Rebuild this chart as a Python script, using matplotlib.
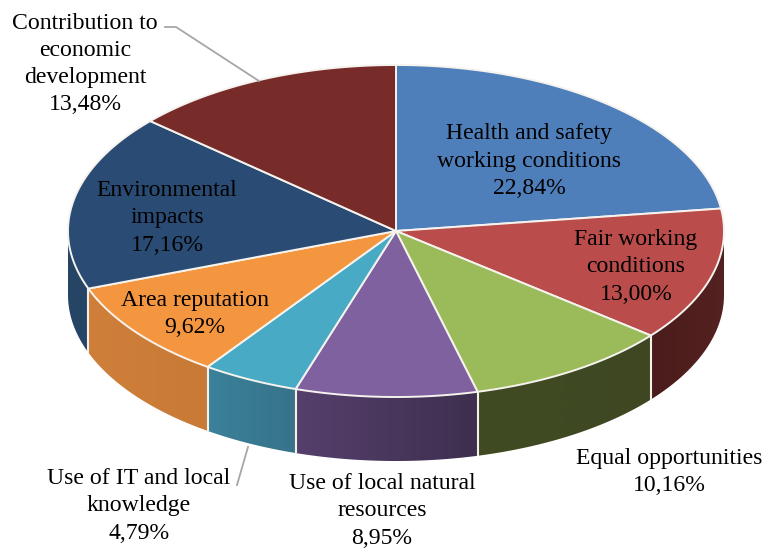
import numpy as np
import matplotlib
matplotlib.use('Agg')
import matplotlib.pyplot as plt
from matplotlib.patches import Polygon
from matplotlib.colors import to_rgb

names = ['Health and safety\nworking conditions', 'Fair working\nconditions', 'Equal opportunities',
         'Use of local natural\nresources', 'Use of IT and local\nknowledge', 'Area reputation',
         'Environmental\nimpacts', 'Contribution to\neconomic\ndevelopment']
values = [22.84, 13.00, 10.16, 8.95, 4.79, 9.62, 17.16, 13.48]
top_colors = ['#4F7FBB', '#BA4D4B', '#9BBA59', '#7F61A0', '#49AAC5', '#F4963F', '#2A4B73', '#772C2A']
wall_left = ['#4F81BD', '#4A1C1B', '#404B22', '#553F6C', '#3A8199', '#CF7F3A', '#264566', '#772C2A']
wall_right = ['#4F81BD', '#542220', '#3E4722', '#3E2F4E', '#37738A', '#C87A36', '#264566', '#772C2A']
label_xy = [(529, 161), (636, 267), (669, 472), (382, 511), (139, 506), (195, 314), (167, 218), (85, 64)]

cx, cy = 396, 231
rx, ry = 328, 166
depth = 64

fig = plt.figure(figsize=(7.66, 5.5), dpi=100)
ax = fig.add_axes([0, 0, 1, 1])
ax.axis('off')


def rim(deg):
    # degrees clockwise from the top of the pie
    a = np.radians(deg)
    return cx + rx * np.sin(a), cy - ry * np.cos(a)


edges = np.concatenate([[0], np.cumsum(values)]) * 3.6

# side walls, only the front half shows
for i in range(len(values)):
    a0 = max(edges[i], 90)
    a1 = min(edges[i + 1], 270)
    if a1 <= a0:
        continue
    ts = np.linspace(a0, a1, 80)
    xs, ys = rim(ts)
    c0, c1 = np.array(to_rgb(wall_left[i])), np.array(to_rgb(wall_right[i]))
    grad = np.linspace(c0, c1, 128)[None, :, :]
    wall = Polygon(np.c_[np.r_[xs, xs[::-1]], np.r_[ys, ys[::-1] + depth]], closed=True,
                   facecolor='none', edgecolor='none', transform=ax.transData)
    ax.add_patch(wall)
    im = ax.imshow(grad, extent=[xs.min(), xs.max(), ys.max() + depth, ys.min()], aspect='auto',
                   interpolation='bilinear', zorder=2)
    im.set_clip_path(wall)

ax.set_xlim(0, 766)
ax.set_ylim(550, 0)

# white seams between the walls
for e in edges:
    if 90 < e < 270:
        x, y = rim(e)
        ax.plot([x, x], [y, y + depth], color='#F4F0EC', lw=1.5, zorder=3, solid_capstyle='butt')

# top of the pie
for i in range(len(values)):
    ts = np.linspace(edges[i], edges[i + 1], 120)
    xs, ys = rim(ts)
    ax.fill(np.r_[cx, xs], np.r_[cy, ys], facecolor=top_colors[i], edgecolor='#F6F3EE', lw=1.4,
            joinstyle='round', zorder=4)

# leader lines
ax.plot([165, 176, 259], [27, 27, 81], color='#A6A6A6', lw=1.3, zorder=5)
ax.plot([248, 237], [447, 485], color='#A6A6A6', lw=1.3, zorder=5)

for i in range(len(values)):
    pct = f'{values[i]:.2f}%'.replace('.', ',')
    ax.text(label_xy[i][0], label_xy[i][1], names[i] + '\n' + pct, ha='center', va='center', ma='center',
            family='Liberation Serif', fontsize=17.1, color='black', linespacing=1.39, zorder=6)

fig.savefig('out.png', dpi=100)
